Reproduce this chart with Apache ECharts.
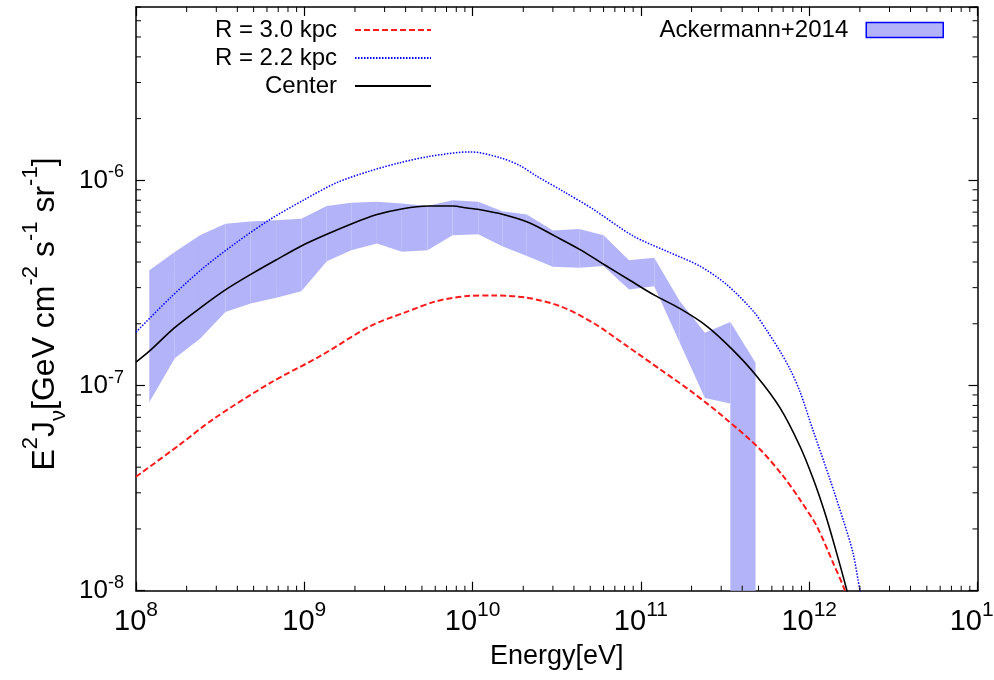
<!DOCTYPE html>
<html>
<head>
<meta charset="utf-8">
<script src="https://cdn.jsdelivr.net/npm/echarts@6/dist/echarts.min.js"></script>
<style>
  html, body { margin: 0; padding: 0; background: #fff; }
  #chart { width: 994px; height: 680px; }
</style>
</head>
<body>
<div id="chart"></div>
<script>
// Axis ranges
const xRange = [1e8, 1e13];
const yRange = [1e-8, 7e-6];

// Ackermann+2014 band: energy (eV), lower and upper E^2 J values
const bandEnergy = [1.2e8, 1.7e8, 2.4e8, 3.4e8, 4.8e8, 6.8e8, 9.6e8, 1.36e9, 1.9e9, 2.7e9,
  3.8e9, 5.4e9, 7.6e9, 1.08e10, 1.5e10, 2.1e10, 3.0e10, 4.3e10, 6.0e10, 8.5e10,
  1.2e11, 1.7e11, 2.4e11, 3.4e11, 3.4e11, 4.8e11];
const bandLow = [8.3e-8, 1.36e-7, 1.69e-7, 2.28e-7, 2.51e-7, 2.68e-7, 2.88e-7, 4.03e-7, 4.56e-7, 4.93e-7,
  4.49e-7, 4.57e-7, 5.4e-7, 5.46e-7, 4.78e-7, 4.28e-7, 3.79e-7, 3.75e-7, 3.82e-7, 2.94e-7,
  3.05e-7, 1.62e-7, 8.7e-8, 8.17e-8, 1e-9, 1e-9];
const bandHigh = [3.65e-7, 4.47e-7, 5.4e-7, 6.15e-7, 6.3e-7, 6.4e-7, 6.5e-7, 7.5e-7, 7.78e-7, 7.87e-7,
  7.72e-7, 7.5e-7, 8.0e-7, 7.87e-7, 7.08e-7, 6.82e-7, 5.7e-7, 5.8e-7, 5.4e-7, 4.08e-7,
  4.2e-7, 2.58e-7, 1.81e-7, 2.04e-7, 2.04e-7, 1.29e-7];

// Model spectrum at R = 3.0 kpc
const r30Energy = [1e8, 1.82e8, 2.9e8, 6.28e8, 1.24e9, 2.47e9, 3.9e9, 6.14e9, 9.27e9, 1.33e10,
  2.09e10, 3.3e10, 5.21e10, 8.24e10, 1.3e11, 2.05e11, 3.24e11, 5.11e11, 7.02e11, 8.81e11,
  1.11e12, 1.39e12, 1.63e12, 1.74e12];
const r30Flux = [3.59e-8, 5.15e-8, 6.89e-8, 1.03e-7, 1.39e-7, 1.95e-7, 2.26e-7, 2.58e-7, 2.73e-7, 2.75e-7,
  2.68e-7, 2.44e-7, 2.02e-7, 1.56e-7, 1.2e-7, 9.2e-8, 6.82e-8, 4.88e-8, 3.61e-8, 2.78e-8,
  2.06e-8, 1.36e-8, 1.0e-8, 8e-9];

// Model spectrum at R = 2.2 kpc
const r22Energy = [1e8, 1.6e8, 2.52e8, 3.98e8, 6.28e8, 9.91e8, 1.56e9, 2.45e9, 3.71e9, 5.58e9,
  9.66e9, 1.46e10, 1.91e10, 2.4e10, 3.54e10, 5.21e10, 9.02e10, 1.42e11, 2.24e11, 3.24e11,
  4.66e11, 5.61e11, 6.71e11, 7.7e11, 8.81e11, 1.05e12, 1.33e12, 1.59e12, 1.82e12, 2.0e12,
  2.14e12];
const r22Flux = [1.82e-7, 2.68e-7, 3.75e-7, 5.0e-7, 6.46e-7, 8.02e-7, 9.75e-7, 1.11e-6, 1.22e-6, 1.31e-6,
  1.377e-6, 1.29e-6, 1.18e-6, 1.05e-6, 8.74e-7, 7.23e-7, 5.35e-7, 4.52e-7, 3.82e-7, 3.1e-7,
  2.3e-7, 1.85e-7, 1.47e-7, 1.2e-7, 9.35e-8, 6.1e-8, 3.48e-8, 2.22e-8, 1.53e-8, 1.01e-8,
  8e-9];

// Model spectrum at the center
const centerEnergy = [1e8, 1.2e8, 1.69e8, 2.41e8, 3.43e8, 4.89e8, 6.89e8, 9.6e8, 1.36e9, 1.87e9,
  2.67e9, 3.85e9, 5.43e9, 7.66e9, 9.27e9, 1.07e10, 1.52e10, 2.17e10, 3.09e10, 4.35e10,
  6.04e10, 8.69e10, 1.21e11, 1.71e11, 2.46e11, 3.49e11, 4.88e11, 6.71e11, 8.81e11, 1.06e12,
  1.24e12, 1.42e12, 1.67e12, 1.78e12];
const centerFlux = [1.3e-7, 1.47e-7, 1.91e-7, 2.39e-7, 2.94e-7, 3.51e-7, 4.12e-7, 4.79e-7, 5.46e-7, 6.1e-7,
  6.8e-7, 7.28e-7, 7.5e-7, 7.5e-7, 7.33e-7, 7.23e-7, 6.82e-7, 6.22e-7, 5.35e-7, 4.6e-7,
  3.89e-7, 3.24e-7, 2.75e-7, 2.37e-7, 1.95e-7, 1.5e-7, 1.11e-7, 7.78e-8, 5.06e-8, 3.48e-8,
  2.39e-8, 1.64e-8, 1.01e-8, 8e-9];

const FONT = '"Liberation Sans", Arial, Helvetica, sans-serif';
const zip = (xs, ys) => xs.map((x, i) => [x, ys[i]]);
const bandSegments = bandEnergy.slice(0, -1).map((e, i) =>
  [e, bandLow[i], bandHigh[i], bandEnergy[i + 1], bandLow[i + 1], bandHigh[i + 1]]);

const powerLabel = (v) => {
  const e = Math.round(Math.log10(v));
  if (Math.abs(Math.log10(v) - e) > 1e-6) return '';
  return '{b|10}{s|' + e + '}';
};

const frameAxis = {
  type: 'log', logBase: 10,
  axisLine: { show: true, lineStyle: { color: '#000', width: 1.5 } },
  axisTick: { show: true, inside: true, length: 9, lineStyle: { color: '#000', width: 1.2 } },
  splitLine: { show: false },
  minorTick: { show: false }
};

const legendText = { fontSize: 24, fontFamily: FONT, color: '#000', lineHeight: 28, padding: [0, 13, 0, 0] };

const chart = echarts.init(document.getElementById('chart'), null, { renderer: 'canvas' });

chart.setOption({
  backgroundColor: '#fff',
  animation: false,
  grid: { left: 136, right: 16.5, top: 7, bottom: 89.3, containLabel: false, outerBoundsMode: 'none' },
  xAxis: [
    Object.assign({}, frameAxis, {
      position: 'bottom', min: xRange[0], max: xRange[1],
      name: 'Energy[eV]', nameLocation: 'middle', nameGap: 52,
      nameTextStyle: { fontSize: 27, fontFamily: FONT, color: '#000' },
      axisLabel: {
        show: true, margin: 9, showMaxLabel: true, showMinLabel: true, hideOverlap: false,
        formatter: powerLabel,
        rich: {
          b: { fontSize: 29, fontFamily: FONT, color: '#000', lineHeight: 44 },
          s: { fontSize: 21, fontFamily: FONT, color: '#000', lineHeight: 21, verticalAlign: 'top' }
        }
      }
    }),
    Object.assign({}, frameAxis, {
      position: 'top', min: xRange[0], max: xRange[1], axisLabel: { show: false }
    })
  ],
  yAxis: [
    Object.assign({}, frameAxis, {
      position: 'left', min: yRange[0], max: yRange[1],
      axisLabel: {
        show: true, margin: 12, showMaxLabel: false,
        formatter: powerLabel,
        rich: {
          b: { fontSize: 26, fontFamily: FONT, color: '#000', lineHeight: 34 },
          s: { fontSize: 18, fontFamily: FONT, color: '#000', lineHeight: 18, verticalAlign: 'top' }
        }
      }
    }),
    Object.assign({}, frameAxis, {
      position: 'right', min: yRange[0], max: yRange[1], axisLabel: { show: false }
    })
  ],
  legend: [
    {
      data: ['R = 3.0 kpc', 'R = 2.2 kpc', 'Center'],
      orient: 'vertical', align: 'right', right: 562, top: 16,
      itemWidth: 76, itemHeight: 14, itemGap: 0, padding: 0, selectedMode: false,
      itemStyle: { color: 'rgba(0,0,0,0)', borderWidth: 0, opacity: 0 },
      textStyle: legendText
    },
    {
      data: [{ name: 'Ackermann+2014', icon: 'rect',
        itemStyle: { color: '#b3b3fa', borderColor: '#0000ff', borderWidth: 1.5 } }],
      orient: 'vertical', align: 'right', right: 50, top: 16,
      itemWidth: 77, itemHeight: 15, itemGap: 0, padding: 0, selectedMode: false,
      textStyle: legendText
    }
  ],
  graphic: [
    {
      type: 'text', x: 45, y: 314, rotation: Math.PI / 2, silent: true,
      style: {
        text: 'E{s|2}J{u|ν}[GeV cm{s|-2} s{s|-1} sr{s|-1}]',
        fontSize: 32, fontFamily: FONT, fill: '#000', lineHeight: 50,
        align: 'center', verticalAlign: 'middle',
        rich: {
          s: { fontSize: 22, fontFamily: FONT, fill: '#000', lineHeight: 22, verticalAlign: 'top' },
          u: { fontSize: 22, fontFamily: FONT, fill: '#000', lineHeight: 22, verticalAlign: 'bottom' }
        }
      }
    }
  ],
  series: [
    {
      name: 'Ackermann+2014', type: 'custom', clip: true, z: 1, silent: true,
      itemStyle: { color: '#b3b3fa', borderColor: '#0000ff', borderWidth: 1.5 },
      data: bandSegments,
      encode: { x: 0, y: 1 },
      renderItem: (params, api) => {
        const a = api.coord([api.value(0), api.value(2)]);
        const b = api.coord([api.value(3), api.value(5)]);
        const c = api.coord([api.value(3), api.value(4)]);
        const d = api.coord([api.value(0), api.value(1)]);
        return {
          type: 'polygon',
          shape: { points: [a, b, c, d] },
          style: { fill: '#b3b3fa' }
        };
      }
    },
    {
      name: 'R = 3.0 kpc', type: 'line', z: 3, symbol: 'none', smooth: 0.3,
      data: zip(r30Energy, r30Flux),
      lineStyle: { color: '#ff1a1a', width: 2, type: [6, 3] },
      itemStyle: { color: '#ff1a1a' }
    },
    {
      name: 'R = 2.2 kpc', type: 'line', z: 3, symbol: 'none', smooth: 0.3,
      data: zip(r22Energy, r22Flux),
      lineStyle: { color: '#0000ff', width: 1.5, type: [1.5, 1.5] },
      itemStyle: { color: '#0000ff' }
    },
    {
      name: 'Center', type: 'line', z: 4, symbol: 'none', smooth: 0.3,
      data: zip(centerEnergy, centerFlux),
      lineStyle: { color: '#000', width: 1.6 },
      itemStyle: { color: '#000' }
    },
    {
      // minor tick marks (2..9 per decade) on all four sides of the frame
      name: 'minorTicks', type: 'custom', clip: false, z: 6, silent: true,
      data: [[xRange[0], yRange[0]]],
      renderItem: (params, api) => {
        const bl = api.coord([xRange[0], yRange[0]]);
        const tr = api.coord([xRange[1], yRange[1]]);
        const len = 5;
        const st = { stroke: '#000', lineWidth: 1 };
        const kids = [];
        const line = (x1, y1, x2, y2) => kids.push({ type: 'line', shape: { x1, y1, x2, y2 }, style: st });
        for (let d = Math.round(Math.log10(xRange[0])); d < Math.round(Math.log10(xRange[1])); d++) {
          for (let m = 2; m <= 9; m++) {
            const x = api.coord([m * Math.pow(10, d), yRange[0]])[0];
            line(x, bl[1], x, bl[1] - len);
            line(x, tr[1], x, tr[1] + len);
          }
        }
        for (let d = Math.round(Math.log10(yRange[0])); d <= Math.floor(Math.log10(yRange[1])); d++) {
          for (let m = 2; m <= 9; m++) {
            const v = m * Math.pow(10, d);
            if (v > yRange[1]) continue;
            const y = api.coord([xRange[0], v])[1];
            line(bl[0], y, bl[0] + len, y);
            line(tr[0], y, tr[0] - len, y);
          }
        }
        return { type: 'group', children: kids };
      }
    }
  ]
});
</script>
</body>
</html>
